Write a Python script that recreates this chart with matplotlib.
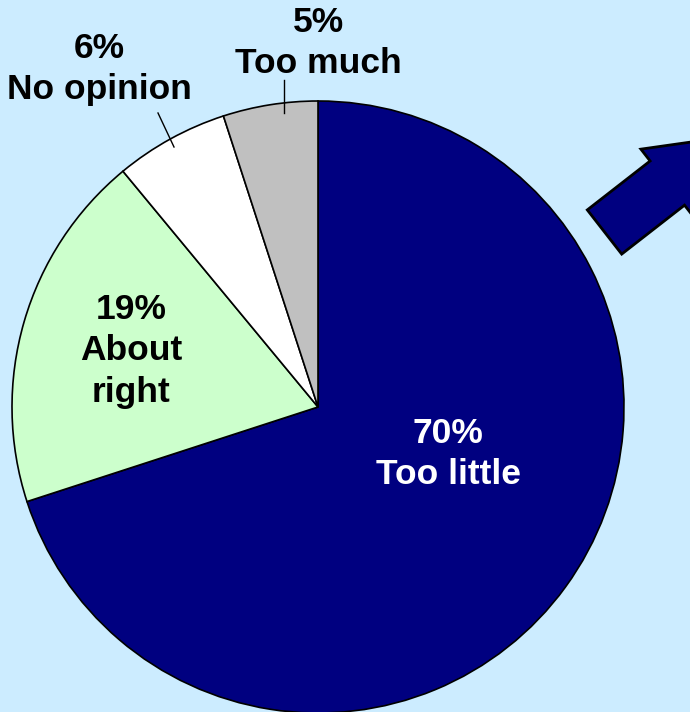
import matplotlib.pyplot as plt
import matplotlib.patches as mpatches

# survey answers, clockwise from 12 o'clock
labels = ["Too little", "About right", "No opinion", "Too much"]
shares = [70, 19, 6, 5]
colors = ["#000080", "#CCFFCC", "#FFFFFF", "#C0C0C0"]
text_colors = ["white", "black", "black", "black"]

W, H = 690, 712
BG = "#CCECFF"

plt.rcParams["font.family"] = ["Liberation Sans", "DejaVu Sans"]

fig = plt.figure(figsize=(W / 100, H / 100), dpi=100, facecolor=BG)
ax = fig.add_axes([0, 0, 1, 1])
ax.set_facecolor(BG)

# pie laid out in pixel units (y up)
cx, cy, r = 318, H - 407, 306
ax.pie(shares, colors=colors, startangle=90, counterclock=False,
       center=(cx, cy), radius=r,
       wedgeprops=dict(edgecolor="black", linewidth=1.2))

ax.set_xlim(0, W)
ax.set_ylim(0, H)
ax.set_aspect("equal")
ax.axis("off")

# label positions (pixels from top-left) and leader lines
label_pos = [(448, 454), (131, 351), (99, 69), (318, 43)]
leaders = [None, None, ((158, 113), (174, 147)), ((284, 80), (284, 113))]
fs = 25.5
for lab, val, tc, (px, py), ld in zip(labels, shares, text_colors, label_pos, leaders):
    txt = f"{val}%\n{lab}"
    if lab == "About right":
        txt = f"{val}%\nAbout\nright"
    ax.text(px, H - py, txt, ha="center", va="center", color=tc,
            fontsize=fs, fontweight="bold", linespacing=1.33)
    if ld is not None:
        (x0, y0), (x1, y1) = ld
        ax.plot([x0, x1], [H - y0, H - y1], color="black", lw=1.0)

# decorative arrow in the top-right corner
arrow = mpatches.FancyArrow(604.5, H - 232, 122, 95, width=56, head_width=86,
                            head_length=75, length_includes_head=True,
                            facecolor="#000080", edgecolor="black", linewidth=2)
ax.add_patch(arrow)

fig.savefig("out.png", dpi=100, facecolor=BG)
